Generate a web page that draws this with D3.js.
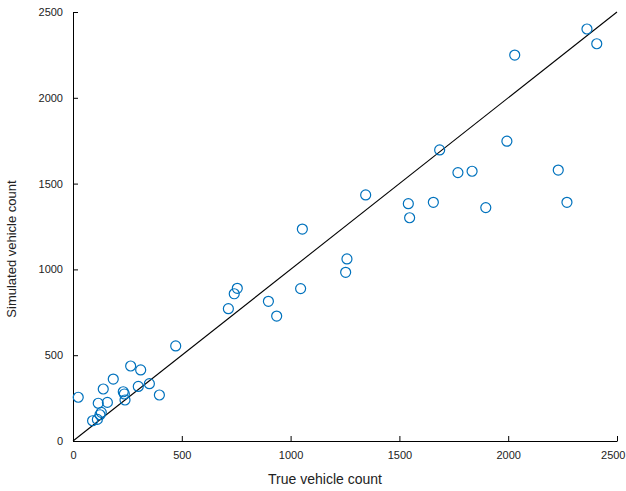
<!DOCTYPE html>
<html>
<head>
<meta charset="utf-8">
<script src="https://cdn.jsdelivr.net/npm/d3@7"></script>
<style>
  html, body { margin: 0; padding: 0; background: #fff; }
  svg { display: block; font-family: "Liberation Sans", Arial, sans-serif; }
</style>
</head>
<body>
<svg id="chart" width="626" height="491"></svg>
<script>
const trueCount = [24, 90, 112, 124, 130, 116, 139, 158, 185, 231, 236, 239, 265, 300, 311, 351, 397, 472,
  714, 741, 755, 898, 936, 1046, 1054, 1253, 1259, 1345, 1541, 1547, 1656, 1685, 1769, 1834, 1897, 1994,
  2030, 2230, 2270, 2362, 2407];
const simCount = [255, 118, 126, 153, 167, 220, 303, 225, 361, 287, 274, 239, 437, 318, 414, 334, 268, 554,
  771, 858, 890, 814, 728, 888, 1235, 983, 1061, 1434, 1383, 1301, 1391, 1696, 1564, 1572, 1360, 1747,
  2249, 1579, 1391, 2401, 2315];
const tickValues = [0, 500, 1000, 1500, 2000, 2500];
const xTitle = "True vehicle count";
const yTitle = "Simulated vehicle count";

const margin = {left: 73, top: 12, right: 9, bottom: 50};
const W = 626, H = 491;
const iw = W - margin.left - margin.right;   // 544
const ih = H - margin.top - margin.bottom;   // 429

const svg = d3.select("#chart");
const g = svg.append("g").attr("transform", `translate(${margin.left},${margin.top})`);

const x = d3.scaleLinear().domain([0, 2500]).range([0, iw]);
const y = d3.scaleLinear().domain([0, 2500]).range([ih, 0]);

// x axis (ticks inward)
const xAxis = g.append("g").attr("transform", `translate(0,${ih})`)
  .call(d3.axisBottom(x).tickValues(tickValues).tickSizeInner(-5).tickSizeOuter(0).tickPadding(10).tickFormat(d3.format("d")));
xAxis.select(".domain").attr("stroke", "#000").attr("stroke-width", 1);
xAxis.selectAll(".tick line").attr("stroke", "#000");
xAxis.selectAll(".tick text").attr("font-size", 11).attr("fill", "#222");
// keep last label inside the canvas
xAxis.selectAll(".tick text").filter(d => d === 2500).attr("text-anchor", "end").attr("x", 8);

const yAxis = g.append("g")
  .call(d3.axisLeft(y).tickValues(tickValues).tickSizeInner(-5).tickSizeOuter(0).tickPadding(10).tickFormat(d3.format("d")));
yAxis.select(".domain").attr("stroke", "#000").attr("stroke-width", 1);
yAxis.selectAll(".tick line").attr("stroke", "#000");
yAxis.selectAll(".tick text").attr("font-size", 11).attr("fill", "#222");

// identity line
g.append("line")
  .attr("x1", x(0)).attr("y1", y(0))
  .attr("x2", x(2500)).attr("y2", y(2500))
  .attr("stroke", "#000").attr("stroke-width", 1.1);

// points
const pts = trueCount.map((t, i) => ({t, s: simCount[i]}));
g.selectAll("circle.pt").data(pts).enter().append("circle")
  .attr("class", "pt")
  .attr("cx", d => x(d.t)).attr("cy", d => y(d.s))
  .attr("r", 5)
  .attr("fill", "none")
  .attr("stroke", "#0072BD")
  .attr("stroke-width", 1.2);

// titles
svg.append("text")
  .attr("x", 325).attr("y", 484)
  .attr("text-anchor", "middle").attr("font-size", 14).attr("fill", "#222")
  .text(xTitle);
svg.append("text")
  .attr("transform", `translate(16,249) rotate(-90)`)
  .attr("text-anchor", "middle").attr("font-size", 13).attr("fill", "#222")
  .text(yTitle);
</script>
</body>
</html>
